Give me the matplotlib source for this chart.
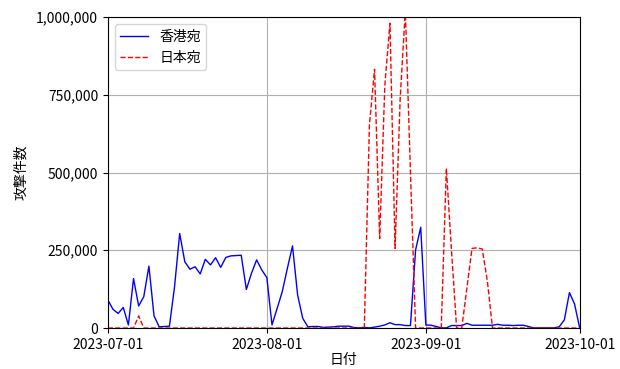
"""
Daily attack counts toward Hong Kong vs Japan, Jul-Oct 2023.
"""

import matplotlib
matplotlib.use("Agg")
import matplotlib.pyplot as plt
import matplotlib.dates as mdates
import matplotlib.ticker as mticker
import pandas as pd

plt.rcParams["font.family"] = ["Noto Sans CJK JP", "DejaVu Sans"]

# ---------------------------------------------------------------------------
# Data (one value per day)
# ---------------------------------------------------------------------------
START_DATE = "2023-07-01"
END_DATE = "2023-10-01"

hk_jul = [90000, 60000, 47000, 66000, 10000, 159000, 71000, 101000, 199000, 39000,
          4000, 5000, 6000, 133000, 304000, 213000, 189000, 197000, 174000, 221000,
          203000, 226000, 195000, 227000, 232000, 233000, 234000, 124000, 176000, 219000,
          187000]
hk_aug = [162000, 10000, 63000, 117000, 192000, 264000, 106000, 31000, 4000, 5000,
          5000, 2000, 3000, 4000, 6000, 6000, 6000, 1500, 1000, 2000,
          500, 3000, 6000, 10000, 17000, 11000, 11000, 8000, 8000, 251000,
          324000]
hk_sep = [10000, 9000, 5000, 500, 500, 8000, 8000, 8000, 15000, 9000,
          9000, 9000, 9000, 9000, 12000, 9000, 9000, 8000, 9000, 9000,
          5000, 500, 500, 500, 500, 500, 4000, 26000, 114000, 77000]
hk_oct = [0]

jp_jul = [0, 0, 0, 0, 0, 0, 39000, 0, 0, 0,
          0, 0, 0, 0, 0, 0, 0, 0, 0, 0,
          0, 0, 0, 0, 0, 0, 0, 0, 0, 0,
          0]
jp_aug = [0, 0, 0, 0, 0, 0, 0, 0, 0, 0,
          0, 0, 0, 0, 0, 0, 0, 0, 0, 0,
          653000, 832000, 288000, 780000, 980000, 256000, 740000, 1020000, 500000, 0,
          0]
jp_sep = [0, 0, 0, 0, 513000, 250000, 0, 0, 128000, 256000,
          258000, 254000, 150000, 0, 0, 0, 0, 0, 0, 0,
          0, 0, 0, 0, 0, 0, 0, 0, 0, 0]
jp_oct = [0]

SERIES_LABELS = ["香港宛", "日本宛"]

dates = pd.date_range(START_DATE, END_DATE, freq="D")
hong_kong = hk_jul + hk_aug + hk_sep + hk_oct
japan = jp_jul + jp_aug + jp_sep + jp_oct

# ---------------------------------------------------------------------------
# Plot
# ---------------------------------------------------------------------------
fig = plt.figure(figsize=(6.2, 3.69), dpi=100)
ax = fig.add_axes([0.174, 0.111, 0.761, 0.843])

ax.plot(dates, hong_kong, color="blue", linestyle="-", linewidth=1.0, label=SERIES_LABELS[0])
ax.plot(dates, japan, color="red", linestyle="--", linewidth=1.0, label=SERIES_LABELS[1])

ax.set_xlim(pd.Timestamp(START_DATE), pd.Timestamp(END_DATE))
ax.set_ylim(0, 1000000)

ax.xaxis.set_major_locator(mdates.MonthLocator())
ax.xaxis.set_major_formatter(mdates.DateFormatter("%Y-%m-%d"))
ax.yaxis.set_major_locator(mticker.MultipleLocator(250000))
ax.yaxis.set_major_formatter(mticker.FuncFormatter(lambda v, _: f"{v:,.0f}"))
ax.tick_params(labelsize=10)

ax.set_xlabel("日付", fontsize=10, labelpad=1)
ax.set_ylabel("攻撃件数", fontsize=10, labelpad=6)
ax.grid(True)
ax.legend(loc="upper left", fontsize=10)

fig.savefig("out.png", dpi=100)
plt.close(fig)
